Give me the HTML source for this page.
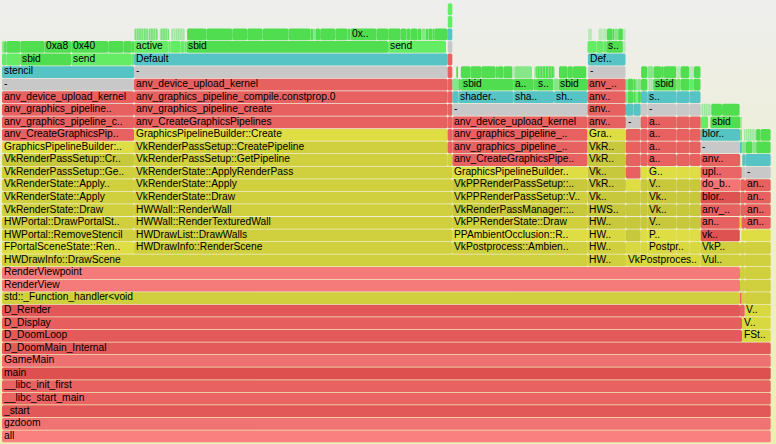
<!DOCTYPE html>
<html><head><meta charset="utf-8"><style>
html,body{margin:0;padding:0;}
body{width:776px;height:444px;overflow:hidden;position:relative;background:#eeeed0;}
.t{position:absolute;height:11px;}
.t span{position:absolute;left:1.7px;top:-0.5px;font-family:"Liberation Sans",sans-serif;font-size:10px;line-height:10px;color:#000;white-space:nowrap;transform:scaleX(1.025);transform-origin:0 0;}
</style></head><body>
<svg width="776" height="444" style="position:absolute;left:0;top:0"><defs><linearGradient id="bgg" x1="0" y1="0" x2="0" y2="1"><stop offset="0" stop-color="#eeeeee"/><stop offset="1" stop-color="#eeeeb0"/></linearGradient><pattern id="pGST" width="2.8" height="20" patternUnits="userSpaceOnUse"><rect width="2.8" height="20" fill="rgb(150,232,150)"/><rect width="2" height="20" fill="rgb(80,222,80)"/></pattern><pattern id="pGLS" width="2.2" height="20" patternUnits="userSpaceOnUse"><rect width="2.2" height="20" fill="rgb(195,236,195)"/><rect width="1.2" height="20" fill="rgb(150,230,150)"/></pattern><pattern id="pGMS" width="2.4" height="20" patternUnits="userSpaceOnUse"><rect width="2.4" height="20" fill="rgb(168,234,168)"/><rect width="1.5" height="20" fill="rgb(118,226,118)"/></pattern></defs><rect x="0" y="0" width="776" height="444" fill="url(#bgg)"/><rect x="2.00" y="430.40" width="768.70" height="11.80" rx="1.57" fill="rgb(250,128,128)"/><rect x="2.00" y="417.84" width="768.70" height="11.80" rx="1.57" fill="rgb(240,115,115)"/><rect x="2.00" y="405.28" width="768.70" height="11.80" rx="1.57" fill="rgb(226,88,88)"/><rect x="2.00" y="392.72" width="768.70" height="11.80" rx="1.57" fill="rgb(234,100,100)"/><rect x="2.00" y="380.16" width="768.70" height="11.80" rx="1.57" fill="rgb(232,98,98)"/><rect x="2.00" y="367.60" width="768.70" height="11.80" rx="1.57" fill="rgb(222,80,80)"/><rect x="2.00" y="355.04" width="768.70" height="11.80" rx="1.57" fill="rgb(238,112,112)"/><rect x="2.00" y="342.48" width="768.70" height="11.80" rx="1.57" fill="rgb(228,90,90)"/><rect x="2.00" y="329.92" width="740.00" height="11.80" rx="1.57" fill="rgb(228,90,90)"/><rect x="742.00" y="329.92" width="28.70" height="11.80" rx="1.57" fill="rgb(216,216,64)"/><rect x="2.00" y="317.36" width="740.00" height="11.80" rx="1.57" fill="rgb(230,94,94)"/><rect x="742.00" y="317.36" width="28.70" height="11.80" rx="1.57" fill="rgb(216,216,64)"/><rect x="2.00" y="304.80" width="738.00" height="11.80" rx="1.57" fill="rgb(226,88,88)"/><rect x="740.00" y="304.80" width="4.80" height="11.80" rx="1.57" fill="rgb(232,97,97)"/><rect x="744.80" y="304.80" width="25.90" height="11.80" rx="1.57" fill="rgb(216,216,64)"/><rect x="2.00" y="292.24" width="737.80" height="11.80" rx="1.57" fill="rgb(208,208,62)"/><rect x="739.80" y="292.24" width="1.95" height="11.80" rx="1.57" fill="rgb(234,102,102)"/><rect x="741.75" y="292.24" width="3.15" height="11.80" rx="1.57" fill="rgb(208,208,62)"/><rect x="744.90" y="292.24" width="25.80" height="11.80" rx="1.57" fill="rgb(208,208,62)"/><rect x="2.00" y="279.68" width="738.00" height="11.80" rx="1.57" fill="rgb(245,122,122)"/><rect x="740.00" y="279.68" width="4.90" height="11.80" rx="1.57" fill="rgb(208,208,62)"/><rect x="744.90" y="279.68" width="25.80" height="11.80" rx="1.57" fill="rgb(208,208,62)"/><rect x="2.00" y="267.12" width="738.00" height="11.80" rx="1.57" fill="rgb(245,122,122)"/><rect x="740.00" y="267.12" width="4.90" height="11.80" rx="1.57" fill="rgb(208,208,62)"/><rect x="744.90" y="267.12" width="25.80" height="11.80" rx="1.57" fill="rgb(208,208,62)"/><rect x="2.00" y="254.56" width="585.60" height="11.80" rx="1.57" fill="rgb(208,208,62)"/><rect x="587.60" y="254.56" width="38.30" height="11.80" rx="1.57" fill="rgb(208,208,62)"/><rect x="625.90" y="254.56" width="74.45" height="11.80" rx="1.57" fill="rgb(216,216,64)"/><rect x="700.35" y="254.56" width="39.65" height="11.80" rx="1.57" fill="rgb(208,208,62)"/><rect x="740.00" y="254.56" width="4.90" height="11.80" rx="1.57" fill="rgb(208,208,62)"/><rect x="744.90" y="254.56" width="25.80" height="11.80" rx="1.57" fill="rgb(208,208,62)"/><rect x="2.00" y="242.00" width="132.05" height="11.80" rx="1.57" fill="rgb(222,222,68)"/><rect x="2.00" y="229.44" width="132.05" height="11.80" rx="1.57" fill="rgb(208,208,62)"/><rect x="2.00" y="216.88" width="132.05" height="11.80" rx="1.57" fill="rgb(208,208,62)"/><rect x="2.00" y="204.32" width="132.05" height="11.80" rx="1.57" fill="rgb(208,208,62)"/><rect x="2.00" y="191.76" width="132.05" height="11.80" rx="1.57" fill="rgb(208,208,62)"/><rect x="2.00" y="179.20" width="132.05" height="11.80" rx="1.57" fill="rgb(208,208,62)"/><rect x="2.00" y="166.64" width="132.05" height="11.80" rx="1.57" fill="rgb(208,208,62)"/><rect x="2.00" y="154.08" width="132.05" height="11.80" rx="1.57" fill="rgb(200,200,60)"/><rect x="2.00" y="141.52" width="132.05" height="11.80" rx="1.57" fill="rgb(222,222,68)"/><rect x="2.00" y="128.96" width="132.05" height="11.80" rx="1.57" fill="rgb(232,97,97)"/><rect x="2.00" y="116.40" width="132.05" height="11.80" rx="1.57" fill="rgb(232,97,97)"/><rect x="2.00" y="103.84" width="132.05" height="11.80" rx="1.57" fill="rgb(232,97,97)"/><rect x="2.00" y="91.28" width="132.05" height="11.80" rx="1.57" fill="rgb(232,97,97)"/><rect x="2.00" y="78.72" width="132.05" height="11.80" rx="1.57" fill="rgb(200,200,200)"/><rect x="2.00" y="66.16" width="132.05" height="11.80" rx="1.57" fill="rgb(86,196,196)"/><rect x="2.00" y="53.60" width="4.25" height="11.80" rx="1.57" fill="rgb(100,236,100)"/><rect x="6.25" y="53.60" width="14.15" height="11.80" rx="1.57" fill="rgb(100,236,100)"/><rect x="20.40" y="53.60" width="50.85" height="11.80" rx="1.57" fill="rgb(80,222,80)"/><rect x="71.25" y="53.60" width="60.60" height="11.80" rx="1.57" fill="rgb(100,236,100)"/><rect x="131.85" y="53.60" width="2.20" height="11.80" rx="1.57" fill="rgb(100,236,100)"/><rect x="2.00" y="41.04" width="2.05" height="11.80" rx="1.57" fill="rgb(135,230,135)"/><rect x="4.05" y="41.04" width="2.35" height="11.80" rx="1.57" fill="rgb(80,222,80)"/><rect x="6.40" y="41.04" width="14.00" height="11.80" rx="1.57" fill="rgb(80,222,80)"/><rect x="20.40" y="41.04" width="24.05" height="11.80" rx="1.57" fill="rgb(80,222,80)"/><rect x="44.45" y="41.04" width="26.80" height="11.80" rx="1.57" fill="rgb(80,222,80)"/><rect x="71.25" y="41.04" width="37.00" height="11.80" rx="1.57" fill="rgb(80,222,80)"/><rect x="108.25" y="41.04" width="15.20" height="11.80" rx="1.57" fill="rgb(80,222,80)"/><rect x="123.45" y="41.04" width="8.40" height="11.80" rx="1.57" fill="rgb(80,222,80)"/><rect x="131.85" y="41.04" width="2.20" height="11.80" rx="1.57" fill="rgb(80,222,80)"/><rect x="134.05" y="242.00" width="318.15" height="11.80" rx="1.57" fill="rgb(208,208,62)"/><rect x="134.05" y="229.44" width="318.15" height="11.80" rx="1.57" fill="rgb(208,208,62)"/><rect x="134.05" y="216.88" width="318.15" height="11.80" rx="1.57" fill="rgb(208,208,62)"/><rect x="134.05" y="204.32" width="318.15" height="11.80" rx="1.57" fill="rgb(208,208,62)"/><rect x="134.05" y="191.76" width="318.15" height="11.80" rx="1.57" fill="rgb(208,208,62)"/><rect x="134.05" y="179.20" width="318.15" height="11.80" rx="1.57" fill="rgb(208,208,62)"/><rect x="134.05" y="166.64" width="318.15" height="11.80" rx="1.57" fill="rgb(208,208,62)"/><rect x="134.05" y="154.08" width="313.55" height="11.80" rx="1.57" fill="rgb(208,208,62)"/><rect x="134.05" y="141.52" width="313.55" height="11.80" rx="1.57" fill="rgb(208,208,62)"/><rect x="134.05" y="128.96" width="313.55" height="11.80" rx="1.57" fill="rgb(222,222,68)"/><rect x="134.05" y="116.40" width="313.55" height="11.80" rx="1.57" fill="rgb(232,97,97)"/><rect x="134.05" y="103.84" width="313.55" height="11.80" rx="1.57" fill="rgb(232,97,97)"/><rect x="134.05" y="91.28" width="313.55" height="11.80" rx="1.57" fill="rgb(232,97,97)"/><rect x="134.05" y="78.72" width="313.55" height="11.80" rx="1.57" fill="rgb(232,97,97)"/><rect x="134.05" y="66.16" width="313.55" height="11.80" rx="1.57" fill="rgb(200,200,200)"/><rect x="134.05" y="53.60" width="313.55" height="11.80" rx="1.57" fill="rgb(86,196,196)"/><rect x="134.05" y="41.04" width="34.30" height="11.80" rx="1.57" fill="rgb(100,236,100)"/><rect x="168.35" y="41.04" width="1.95" height="11.80" rx="1.57" fill="rgb(100,236,100)"/><rect x="170.30" y="41.04" width="10.30" height="11.80" rx="1.57" fill="rgb(100,236,100)"/><rect x="180.60" y="41.04" width="3.85" height="11.80" rx="1.57" fill="rgb(100,236,100)"/><rect x="184.45" y="41.04" width="2.30" height="11.80" rx="1.57" fill="rgb(100,236,100)"/><rect x="186.75" y="41.04" width="201.30" height="11.80" rx="1.57" fill="rgb(80,222,80)"/><rect x="388.05" y="41.04" width="57.95" height="11.80" rx="1.57" fill="rgb(100,236,100)"/><rect x="134.30" y="28.48" width="14.15" height="11.80" rx="1.57" fill="url(#pGMS)"/><rect x="148.45" y="28.48" width="9.45" height="11.80" rx="1.57" fill="url(#pGMS)"/><rect x="159.80" y="28.48" width="9.30" height="11.80" rx="1.57" fill="url(#pGMS)"/><rect x="171.00" y="28.48" width="14.00" height="11.80" rx="1.57" fill="url(#pGLS)"/><rect x="187.10" y="28.48" width="19.25" height="11.80" rx="1.57" fill="rgb(80,222,80)"/><rect x="206.35" y="28.48" width="25.90" height="11.80" rx="1.57" fill="rgb(80,222,80)"/><rect x="232.25" y="28.48" width="15.05" height="11.80" rx="1.57" fill="rgb(80,222,80)"/><rect x="247.30" y="28.48" width="15.10" height="11.80" rx="1.57" fill="rgb(80,222,80)"/><rect x="262.40" y="28.48" width="26.00" height="11.80" rx="1.57" fill="rgb(80,222,80)"/><rect x="288.40" y="28.48" width="22.10" height="11.80" rx="1.57" fill="rgb(80,222,80)"/><rect x="310.50" y="28.48" width="2.60" height="11.80" rx="1.57" fill="rgb(80,222,80)"/><rect x="315.35" y="28.48" width="4.80" height="11.80" rx="1.57" fill="rgb(80,222,80)"/><rect x="320.15" y="28.48" width="15.25" height="11.80" rx="1.57" fill="rgb(80,222,80)"/><rect x="335.40" y="28.48" width="12.20" height="11.80" rx="1.57" fill="rgb(80,222,80)"/><rect x="347.60" y="28.48" width="2.90" height="11.80" rx="1.57" fill="rgb(80,222,80)"/><rect x="376.45" y="28.48" width="11.80" height="11.80" rx="1.57" fill="rgb(80,222,80)"/><rect x="388.25" y="28.48" width="12.40" height="11.80" rx="1.57" fill="rgb(80,222,80)"/><rect x="400.65" y="28.48" width="5.80" height="11.80" rx="1.57" fill="rgb(80,222,80)"/><rect x="406.45" y="28.48" width="4.00" height="11.80" rx="1.57" fill="rgb(80,222,80)"/><rect x="410.45" y="28.48" width="7.10" height="11.80" rx="1.57" fill="rgb(80,222,80)"/><rect x="417.55" y="28.48" width="3.90" height="11.80" rx="1.57" fill="rgb(80,222,80)"/><rect x="425.95" y="28.48" width="2.55" height="11.80" rx="1.57" fill="rgb(80,222,80)"/><rect x="428.50" y="28.48" width="3.90" height="11.80" rx="1.57" fill="rgb(80,222,80)"/><rect x="432.40" y="28.48" width="1.80" height="11.80" rx="1.57" fill="rgb(80,222,80)"/><rect x="434.20" y="28.48" width="13.00" height="11.80" rx="1.57" fill="rgb(80,222,80)"/><rect x="313.10" y="28.48" width="2.25" height="11.80" rx="1.57" fill="rgb(135,230,135)"/><rect x="421.45" y="28.48" width="4.50" height="11.80" rx="1.57" fill="rgb(135,230,135)"/><rect x="350.50" y="28.48" width="25.95" height="11.80" rx="1.57" fill="rgb(80,222,80)"/><rect x="447.60" y="154.08" width="4.85" height="11.80" rx="1.57" fill="rgb(208,208,62)"/><rect x="447.60" y="141.52" width="4.85" height="11.80" rx="1.57" fill="rgb(232,97,97)"/><rect x="447.60" y="128.96" width="4.85" height="11.80" rx="1.57" fill="rgb(232,97,97)"/><rect x="447.60" y="116.40" width="4.85" height="11.80" rx="1.57" fill="rgb(232,97,97)"/><rect x="447.60" y="103.84" width="4.85" height="11.80" rx="1.57" fill="rgb(232,97,97)"/><rect x="447.60" y="91.28" width="4.90" height="11.80" rx="1.57" fill="rgb(232,97,97)"/><rect x="447.60" y="78.72" width="4.90" height="11.80" rx="1.57" fill="rgb(232,97,97)"/><rect x="447.60" y="66.16" width="4.70" height="11.80" rx="1.57" fill="rgb(232,97,97)"/><rect x="447.60" y="53.60" width="4.70" height="11.80" rx="1.57" fill="rgb(232,97,97)"/><rect x="447.80" y="41.04" width="4.50" height="11.80" rx="1.57" fill="rgb(200,200,200)"/><rect x="447.20" y="28.48" width="5.10" height="11.80" rx="1.57" fill="rgb(86,196,196)"/><rect x="447.80" y="15.92" width="4.50" height="11.80" rx="1.57" fill="rgb(100,236,100)"/><rect x="447.80" y="3.36" width="4.50" height="11.80" rx="1.57" fill="rgb(100,236,100)"/><rect x="452.20" y="242.00" width="135.35" height="11.80" rx="1.57" fill="rgb(208,208,62)"/><rect x="452.20" y="229.44" width="135.35" height="11.80" rx="1.57" fill="rgb(222,222,68)"/><rect x="452.20" y="216.88" width="135.35" height="11.80" rx="1.57" fill="rgb(208,208,62)"/><rect x="452.20" y="204.32" width="135.35" height="11.80" rx="1.57" fill="rgb(200,200,60)"/><rect x="452.20" y="191.76" width="135.35" height="11.80" rx="1.57" fill="rgb(208,208,62)"/><rect x="452.20" y="179.20" width="135.35" height="11.80" rx="1.57" fill="rgb(200,200,60)"/><rect x="452.20" y="166.64" width="135.35" height="11.80" rx="1.57" fill="rgb(222,222,68)"/><rect x="452.45" y="154.08" width="135.10" height="11.80" rx="1.57" fill="rgb(232,97,97)"/><rect x="452.45" y="141.52" width="135.10" height="11.80" rx="1.57" fill="rgb(232,97,97)"/><rect x="452.45" y="128.96" width="135.10" height="11.80" rx="1.57" fill="rgb(232,97,97)"/><rect x="452.45" y="116.40" width="135.10" height="11.80" rx="1.57" fill="rgb(232,97,97)"/><rect x="452.45" y="103.84" width="135.10" height="11.80" rx="1.57" fill="rgb(200,200,200)"/><rect x="452.50" y="91.28" width="6.00" height="11.80" rx="1.57" fill="rgb(86,196,196)"/><rect x="458.50" y="91.28" width="55.10" height="11.80" rx="1.57" fill="rgb(86,196,196)"/><rect x="513.60" y="91.28" width="40.45" height="11.80" rx="1.57" fill="rgb(86,196,196)"/><rect x="554.05" y="91.28" width="33.50" height="11.80" rx="1.57" fill="rgb(86,196,196)"/><rect x="452.50" y="78.72" width="6.00" height="11.80" rx="1.57" fill="rgb(135,230,135)"/><rect x="458.50" y="78.72" width="2.35" height="11.80" rx="1.57" fill="rgb(80,222,80)"/><rect x="460.85" y="78.72" width="52.75" height="11.80" rx="1.57" fill="rgb(80,222,80)"/><rect x="513.60" y="78.72" width="19.90" height="11.80" rx="1.57" fill="rgb(80,222,80)"/><rect x="533.50" y="78.72" width="2.45" height="11.80" rx="1.57" fill="rgb(80,222,80)"/><rect x="535.95" y="78.72" width="17.30" height="11.80" rx="1.57" fill="rgb(80,222,80)"/><rect x="553.25" y="78.72" width="5.55" height="11.80" rx="1.57" fill="rgb(135,230,135)"/><rect x="558.80" y="78.72" width="28.75" height="11.80" rx="1.57" fill="rgb(80,222,80)"/><rect x="456.30" y="66.16" width="1.70" height="11.80" rx="1.57" fill="rgb(80,222,80)"/><rect x="460.80" y="66.16" width="9.55" height="11.80" rx="1.57" fill="rgb(80,222,80)"/><rect x="470.35" y="66.16" width="10.80" height="11.80" rx="1.57" fill="rgb(80,222,80)"/><rect x="481.15" y="66.16" width="14.35" height="11.80" rx="1.57" fill="rgb(80,222,80)"/><rect x="495.50" y="66.16" width="2.45" height="11.80" rx="1.57" fill="rgb(80,222,80)"/><rect x="497.95" y="66.16" width="5.65" height="11.80" rx="1.57" fill="rgb(80,222,80)"/><rect x="503.60" y="66.16" width="8.90" height="11.80" rx="1.57" fill="rgb(80,222,80)"/><rect x="559.00" y="66.16" width="8.65" height="11.80" rx="1.57" fill="rgb(80,222,80)"/><rect x="567.65" y="66.16" width="5.25" height="11.80" rx="1.57" fill="rgb(80,222,80)"/><rect x="572.90" y="66.16" width="13.40" height="11.80" rx="1.57" fill="rgb(80,222,80)"/><rect x="512.50" y="66.16" width="2.00" height="11.80" rx="1.57" fill="rgb(185,232,185)"/><rect x="514.50" y="66.16" width="17.50" height="11.80" rx="1.57" fill="rgb(135,230,135)"/><rect x="534.00" y="66.16" width="1.50" height="11.80" rx="1.57" fill="rgb(185,232,185)"/><rect x="535.50" y="66.16" width="19.00" height="11.80" rx="1.57" fill="url(#pGST)"/><rect x="587.55" y="242.00" width="38.35" height="11.80" rx="1.57" fill="rgb(208,208,62)"/><rect x="587.55" y="229.44" width="38.35" height="11.80" rx="1.57" fill="rgb(216,216,64)"/><rect x="587.55" y="216.88" width="38.35" height="11.80" rx="1.57" fill="rgb(200,200,60)"/><rect x="587.55" y="204.32" width="38.35" height="11.80" rx="1.57" fill="rgb(200,200,60)"/><rect x="587.55" y="191.76" width="38.35" height="11.80" rx="1.57" fill="rgb(200,200,60)"/><rect x="587.55" y="179.20" width="38.35" height="11.80" rx="1.57" fill="rgb(200,200,60)"/><rect x="587.55" y="166.64" width="38.35" height="11.80" rx="1.57" fill="rgb(200,200,60)"/><rect x="587.55" y="154.08" width="38.35" height="11.80" rx="1.57" fill="rgb(200,200,60)"/><rect x="587.55" y="141.52" width="38.35" height="11.80" rx="1.57" fill="rgb(200,200,60)"/><rect x="587.55" y="128.96" width="38.35" height="11.80" rx="1.57" fill="rgb(222,222,68)"/><rect x="587.55" y="116.40" width="38.35" height="11.80" rx="1.57" fill="rgb(232,97,97)"/><rect x="587.55" y="103.84" width="38.35" height="11.80" rx="1.57" fill="rgb(232,97,97)"/><rect x="587.55" y="91.28" width="38.25" height="11.80" rx="1.57" fill="rgb(232,97,97)"/><rect x="587.55" y="78.72" width="38.25" height="11.80" rx="1.57" fill="rgb(232,97,97)"/><rect x="587.90" y="66.16" width="37.60" height="11.80" rx="1.57" fill="rgb(200,200,200)"/><rect x="587.90" y="53.60" width="37.60" height="11.80" rx="1.57" fill="rgb(86,196,196)"/><rect x="587.50" y="41.04" width="8.80" height="11.80" rx="1.57" fill="rgb(100,236,100)"/><rect x="596.30" y="41.04" width="6.95" height="11.80" rx="1.57" fill="rgb(100,236,100)"/><rect x="603.25" y="41.04" width="3.00" height="11.80" rx="1.57" fill="rgb(100,236,100)"/><rect x="606.25" y="41.04" width="16.65" height="11.80" rx="1.57" fill="rgb(80,222,80)"/><rect x="622.90" y="41.04" width="2.70" height="11.80" rx="1.57" fill="rgb(185,232,185)"/><rect x="588.10" y="28.48" width="3.80" height="11.80" rx="1.57" fill="rgb(185,232,185)"/><rect x="598.50" y="28.48" width="4.15" height="11.80" rx="1.57" fill="rgb(185,232,185)"/><rect x="602.65" y="28.48" width="4.20" height="11.80" rx="1.57" fill="rgb(185,232,185)"/><rect x="606.85" y="28.48" width="5.50" height="11.80" rx="1.57" fill="rgb(80,222,80)"/><rect x="612.35" y="28.48" width="1.75" height="11.80" rx="1.57" fill="rgb(80,222,80)"/><rect x="614.10" y="28.48" width="4.10" height="11.80" rx="1.57" fill="rgb(135,230,135)"/><rect x="618.20" y="28.48" width="4.70" height="11.80" rx="1.57" fill="rgb(80,222,80)"/><rect x="622.90" y="28.48" width="2.70" height="11.80" rx="1.57" fill="rgb(185,232,185)"/><rect x="625.90" y="242.00" width="14.75" height="11.80" rx="1.57" fill="rgb(216,216,64)"/><rect x="625.90" y="229.44" width="14.75" height="11.80" rx="1.57" fill="rgb(200,200,60)"/><rect x="625.90" y="216.88" width="14.75" height="11.80" rx="1.57" fill="rgb(200,200,60)"/><rect x="625.90" y="204.32" width="14.75" height="11.80" rx="1.57" fill="rgb(200,200,60)"/><rect x="625.90" y="191.76" width="14.75" height="11.80" rx="1.57" fill="rgb(200,200,60)"/><rect x="625.90" y="179.20" width="14.75" height="11.80" rx="1.57" fill="rgb(222,222,68)"/><rect x="625.90" y="166.64" width="14.75" height="11.80" rx="1.57" fill="rgb(232,97,97)"/><rect x="625.90" y="154.08" width="14.75" height="11.80" rx="1.57" fill="rgb(232,97,97)"/><rect x="625.90" y="141.52" width="14.75" height="11.80" rx="1.57" fill="rgb(232,97,97)"/><rect x="625.90" y="128.96" width="14.75" height="11.80" rx="1.57" fill="rgb(232,97,97)"/><rect x="625.90" y="116.40" width="14.75" height="11.80" rx="1.57" fill="rgb(200,200,200)"/><rect x="625.90" y="103.84" width="7.75" height="11.80" rx="1.57" fill="rgb(86,196,196)"/><rect x="633.65" y="103.84" width="7.10" height="11.80" rx="1.57" fill="rgb(86,196,196)"/><rect x="625.80" y="91.28" width="1.85" height="11.80" rx="1.57" fill="rgb(135,230,135)"/><rect x="627.65" y="91.28" width="5.75" height="11.80" rx="1.57" fill="rgb(80,222,80)"/><rect x="633.40" y="91.28" width="2.40" height="11.80" rx="1.57" fill="rgb(80,222,80)"/><rect x="635.80" y="91.28" width="2.00" height="11.80" rx="1.57" fill="rgb(135,230,135)"/><rect x="637.80" y="91.28" width="3.10" height="11.80" rx="1.57" fill="rgb(80,222,80)"/><rect x="625.80" y="78.72" width="1.85" height="11.80" rx="1.57" fill="rgb(135,230,135)"/><rect x="627.65" y="78.72" width="5.75" height="11.80" rx="1.57" fill="rgb(80,222,80)"/><rect x="633.40" y="78.72" width="2.40" height="11.80" rx="1.57" fill="rgb(80,222,80)"/><rect x="635.80" y="78.72" width="2.00" height="11.80" rx="1.57" fill="rgb(135,230,135)"/><rect x="637.80" y="78.72" width="3.10" height="11.80" rx="1.57" fill="rgb(135,230,135)"/><rect x="640.65" y="242.00" width="7.10" height="11.80" rx="1.57" fill="rgb(216,216,64)"/><rect x="647.75" y="242.00" width="28.90" height="11.80" rx="1.57" fill="rgb(216,216,64)"/><rect x="676.65" y="242.00" width="13.10" height="11.80" rx="1.57" fill="rgb(216,216,64)"/><rect x="689.75" y="242.00" width="11.00" height="11.80" rx="1.57" fill="rgb(216,216,64)"/><rect x="640.65" y="229.44" width="7.10" height="11.80" rx="1.57" fill="rgb(222,222,68)"/><rect x="647.75" y="229.44" width="28.90" height="11.80" rx="1.57" fill="rgb(222,222,68)"/><rect x="676.65" y="229.44" width="13.10" height="11.80" rx="1.57" fill="rgb(222,222,68)"/><rect x="689.75" y="229.44" width="11.00" height="11.80" rx="1.57" fill="rgb(222,222,68)"/><rect x="640.65" y="216.88" width="7.10" height="11.80" rx="1.57" fill="rgb(200,200,60)"/><rect x="647.75" y="216.88" width="28.90" height="11.80" rx="1.57" fill="rgb(200,200,60)"/><rect x="676.65" y="216.88" width="13.10" height="11.80" rx="1.57" fill="rgb(200,200,60)"/><rect x="689.75" y="216.88" width="11.00" height="11.80" rx="1.57" fill="rgb(200,200,60)"/><rect x="640.65" y="204.32" width="7.10" height="11.80" rx="1.57" fill="rgb(200,200,60)"/><rect x="647.75" y="204.32" width="28.90" height="11.80" rx="1.57" fill="rgb(200,200,60)"/><rect x="676.65" y="204.32" width="13.10" height="11.80" rx="1.57" fill="rgb(200,200,60)"/><rect x="689.75" y="204.32" width="11.00" height="11.80" rx="1.57" fill="rgb(200,200,60)"/><rect x="640.65" y="191.76" width="7.10" height="11.80" rx="1.57" fill="rgb(200,200,60)"/><rect x="647.75" y="191.76" width="28.90" height="11.80" rx="1.57" fill="rgb(200,200,60)"/><rect x="676.65" y="191.76" width="13.10" height="11.80" rx="1.57" fill="rgb(200,200,60)"/><rect x="689.75" y="191.76" width="11.00" height="11.80" rx="1.57" fill="rgb(200,200,60)"/><rect x="640.65" y="179.20" width="7.10" height="11.80" rx="1.57" fill="rgb(200,200,60)"/><rect x="647.75" y="179.20" width="28.90" height="11.80" rx="1.57" fill="rgb(200,200,60)"/><rect x="676.65" y="179.20" width="13.10" height="11.80" rx="1.57" fill="rgb(200,200,60)"/><rect x="689.75" y="179.20" width="11.00" height="11.80" rx="1.57" fill="rgb(200,200,60)"/><rect x="640.65" y="166.64" width="7.10" height="11.80" rx="1.57" fill="rgb(222,222,68)"/><rect x="647.75" y="166.64" width="28.90" height="11.80" rx="1.57" fill="rgb(222,222,68)"/><rect x="676.65" y="166.64" width="13.10" height="11.80" rx="1.57" fill="rgb(222,222,68)"/><rect x="689.75" y="166.64" width="11.00" height="11.80" rx="1.57" fill="rgb(222,222,68)"/><rect x="640.65" y="154.08" width="7.10" height="11.80" rx="1.57" fill="rgb(232,97,97)"/><rect x="647.75" y="154.08" width="28.90" height="11.80" rx="1.57" fill="rgb(232,97,97)"/><rect x="676.65" y="154.08" width="13.10" height="11.80" rx="1.57" fill="rgb(232,97,97)"/><rect x="689.75" y="154.08" width="11.00" height="11.80" rx="1.57" fill="rgb(232,97,97)"/><rect x="640.65" y="141.52" width="7.10" height="11.80" rx="1.57" fill="rgb(232,97,97)"/><rect x="647.75" y="141.52" width="28.90" height="11.80" rx="1.57" fill="rgb(232,97,97)"/><rect x="676.65" y="141.52" width="13.10" height="11.80" rx="1.57" fill="rgb(232,97,97)"/><rect x="689.75" y="141.52" width="11.00" height="11.80" rx="1.57" fill="rgb(232,97,97)"/><rect x="640.65" y="128.96" width="7.10" height="11.80" rx="1.57" fill="rgb(232,97,97)"/><rect x="647.75" y="128.96" width="28.90" height="11.80" rx="1.57" fill="rgb(232,97,97)"/><rect x="676.65" y="128.96" width="13.10" height="11.80" rx="1.57" fill="rgb(232,97,97)"/><rect x="689.75" y="128.96" width="11.00" height="11.80" rx="1.57" fill="rgb(232,97,97)"/><rect x="640.65" y="116.40" width="7.10" height="11.80" rx="1.57" fill="rgb(232,97,97)"/><rect x="647.75" y="116.40" width="28.90" height="11.80" rx="1.57" fill="rgb(232,97,97)"/><rect x="676.65" y="116.40" width="13.10" height="11.80" rx="1.57" fill="rgb(232,97,97)"/><rect x="689.75" y="116.40" width="11.00" height="11.80" rx="1.57" fill="rgb(232,97,97)"/><rect x="640.75" y="103.84" width="6.55" height="11.80" rx="1.57" fill="rgb(200,200,200)"/><rect x="647.30" y="103.84" width="28.95" height="11.80" rx="1.57" fill="rgb(200,200,200)"/><rect x="676.25" y="103.84" width="13.00" height="11.80" rx="1.57" fill="rgb(200,200,200)"/><rect x="689.25" y="103.84" width="11.55" height="11.80" rx="1.57" fill="rgb(200,200,200)"/><rect x="640.90" y="91.28" width="6.40" height="11.80" rx="1.57" fill="rgb(86,196,196)"/><rect x="647.30" y="91.28" width="29.25" height="11.80" rx="1.57" fill="rgb(86,196,196)"/><rect x="676.55" y="91.28" width="13.05" height="11.80" rx="1.57" fill="rgb(86,196,196)"/><rect x="689.60" y="91.28" width="10.90" height="11.80" rx="1.57" fill="rgb(86,196,196)"/><rect x="640.90" y="78.72" width="6.40" height="11.80" rx="1.57" fill="rgb(80,222,80)"/><rect x="647.30" y="78.72" width="5.90" height="11.80" rx="1.57" fill="url(#pGLS)"/><rect x="653.20" y="78.72" width="23.35" height="11.80" rx="1.57" fill="rgb(80,222,80)"/><rect x="676.55" y="78.72" width="4.05" height="11.80" rx="1.57" fill="rgb(100,236,100)"/><rect x="680.60" y="78.72" width="9.00" height="11.80" rx="1.57" fill="rgb(80,222,80)"/><rect x="689.60" y="78.72" width="3.85" height="11.80" rx="1.57" fill="rgb(100,236,100)"/><rect x="693.45" y="78.72" width="7.05" height="11.80" rx="1.57" fill="rgb(80,222,80)"/><rect x="641.10" y="66.16" width="6.20" height="11.80" rx="1.57" fill="rgb(80,222,80)"/><rect x="647.30" y="66.16" width="6.45" height="11.80" rx="1.57" fill="rgb(135,230,135)"/><rect x="653.75" y="66.16" width="7.30" height="11.80" rx="1.57" fill="rgb(80,222,80)"/><rect x="661.05" y="66.16" width="2.80" height="11.80" rx="1.57" fill="rgb(80,222,80)"/><rect x="663.85" y="66.16" width="12.50" height="11.80" rx="1.57" fill="rgb(80,222,80)"/><rect x="676.35" y="66.16" width="4.25" height="11.80" rx="1.57" fill="rgb(185,232,185)"/><rect x="680.60" y="66.16" width="8.55" height="11.80" rx="1.57" fill="rgb(80,222,80)"/><rect x="689.15" y="66.16" width="4.75" height="11.80" rx="1.57" fill="rgb(185,232,185)"/><rect x="693.90" y="66.16" width="6.60" height="11.80" rx="1.57" fill="rgb(80,222,80)"/><rect x="700.75" y="242.00" width="39.25" height="11.80" rx="1.57" fill="rgb(208,208,62)"/><rect x="700.75" y="229.44" width="39.05" height="11.80" rx="1.57" fill="rgb(222,82,82)"/><rect x="700.75" y="216.88" width="39.05" height="11.80" rx="1.57" fill="rgb(232,97,97)"/><rect x="700.75" y="204.32" width="39.75" height="11.80" rx="1.57" fill="rgb(232,97,97)"/><rect x="700.75" y="191.76" width="39.75" height="11.80" rx="1.57" fill="rgb(222,82,82)"/><rect x="700.75" y="179.20" width="39.75" height="11.80" rx="1.57" fill="rgb(242,116,116)"/><rect x="700.75" y="166.64" width="41.10" height="11.80" rx="1.57" fill="rgb(234,102,102)"/><rect x="700.75" y="154.08" width="39.45" height="11.80" rx="1.57" fill="rgb(232,97,97)"/><rect x="700.75" y="141.52" width="39.15" height="11.80" rx="1.57" fill="rgb(200,200,200)"/><rect x="700.75" y="128.96" width="39.40" height="11.80" rx="1.57" fill="rgb(86,196,196)"/><rect x="700.75" y="116.40" width="7.35" height="11.80" rx="1.57" fill="rgb(100,236,100)"/><rect x="710.40" y="116.40" width="29.95" height="11.80" rx="1.57" fill="rgb(80,222,80)"/><rect x="740.35" y="116.40" width="1.35" height="11.80" rx="1.57" fill="rgb(135,230,135)"/><rect x="700.80" y="103.84" width="10.45" height="11.80" rx="1.57" fill="url(#pGLS)"/><rect x="711.25" y="103.84" width="10.80" height="11.80" rx="1.57" fill="rgb(80,222,80)"/><rect x="722.05" y="103.84" width="17.55" height="11.80" rx="1.57" fill="rgb(80,222,80)"/><rect x="740.00" y="242.00" width="4.90" height="11.80" rx="1.57" fill="rgb(208,208,62)"/><rect x="744.90" y="242.00" width="25.80" height="11.80" rx="1.57" fill="rgb(208,208,62)"/><rect x="741.40" y="229.44" width="3.60" height="11.80" rx="1.57" fill="rgb(222,222,68)"/><rect x="745.00" y="229.44" width="25.70" height="11.80" rx="1.57" fill="rgb(222,222,68)"/><rect x="739.80" y="216.88" width="1.65" height="11.80" rx="1.57" fill="rgb(222,222,68)"/><rect x="741.45" y="216.88" width="3.55" height="11.80" rx="1.57" fill="rgb(232,97,97)"/><rect x="745.00" y="216.88" width="25.70" height="11.80" rx="1.57" fill="rgb(232,97,97)"/><rect x="740.50" y="204.32" width="4.50" height="11.80" rx="1.57" fill="rgb(232,97,97)"/><rect x="745.00" y="204.32" width="25.70" height="11.80" rx="1.57" fill="rgb(232,97,97)"/><rect x="740.50" y="191.76" width="4.50" height="11.80" rx="1.57" fill="rgb(232,97,97)"/><rect x="745.00" y="191.76" width="25.70" height="11.80" rx="1.57" fill="rgb(232,97,97)"/><rect x="740.50" y="179.20" width="4.50" height="11.80" rx="1.57" fill="rgb(232,97,97)"/><rect x="745.00" y="179.20" width="25.70" height="11.80" rx="1.57" fill="rgb(232,97,97)"/><rect x="741.85" y="166.64" width="3.40" height="11.80" rx="1.57" fill="rgb(200,200,200)"/><rect x="745.25" y="166.64" width="25.45" height="11.80" rx="1.57" fill="rgb(200,200,200)"/><rect x="742.20" y="154.08" width="3.05" height="11.80" rx="1.57" fill="rgb(86,196,196)"/><rect x="745.25" y="154.08" width="25.45" height="11.80" rx="1.57" fill="rgb(86,196,196)"/><rect x="739.90" y="141.52" width="2.05" height="11.80" rx="1.57" fill="rgb(86,196,196)"/><rect x="741.95" y="141.52" width="3.90" height="11.80" rx="1.57" fill="rgb(135,230,135)"/><rect x="745.85" y="141.52" width="6.70" height="11.80" rx="1.57" fill="rgb(80,222,80)"/><rect x="752.55" y="141.52" width="3.65" height="11.80" rx="1.57" fill="rgb(135,230,135)"/><rect x="756.20" y="141.52" width="14.40" height="11.80" rx="1.57" fill="rgb(80,222,80)"/><rect x="740.15" y="128.96" width="1.75" height="11.80" rx="1.57" fill="rgb(100,236,100)"/><rect x="743.90" y="128.96" width="12.15" height="11.80" rx="1.57" fill="url(#pGLS)"/><rect x="756.05" y="128.96" width="4.55" height="11.80" rx="1.57" fill="rgb(80,222,80)"/><rect x="760.60" y="128.96" width="10.00" height="11.80" rx="1.57" fill="rgb(80,222,80)"/></svg>
<div class="t" style="left:2.00px;top:431.5px;width:768.20px"><span>all</span></div>
<div class="t" style="left:2.00px;top:418.5px;width:768.20px"><span>gzdoom</span></div>
<div class="t" style="left:2.00px;top:406.5px;width:768.20px"><span>_start</span></div>
<div class="t" style="left:2.00px;top:393.5px;width:768.20px"><span>__libc_start_main</span></div>
<div class="t" style="left:2.00px;top:380.5px;width:768.20px"><span>__libc_init_first</span></div>
<div class="t" style="left:2.00px;top:368.5px;width:768.20px"><span>main</span></div>
<div class="t" style="left:2.00px;top:355.5px;width:768.20px"><span>GameMain</span></div>
<div class="t" style="left:2.00px;top:343.5px;width:768.20px"><span>D_DoomMain_Internal</span></div>
<div class="t" style="left:2.00px;top:330.5px;width:739.50px"><span>D_DoomLoop</span></div>
<div class="t" style="left:742.00px;top:330.5px;width:28.20px"><span>FSt..</span></div>
<div class="t" style="left:2.00px;top:318.5px;width:739.50px"><span>D_Display</span></div>
<div class="t" style="left:742.00px;top:318.5px;width:28.20px"><span>V..</span></div>
<div class="t" style="left:2.00px;top:305.5px;width:737.50px"><span>D_Render</span></div>
<div class="t" style="left:744.80px;top:305.5px;width:25.40px"><span>V..</span></div>
<div class="t" style="left:2.00px;top:292.5px;width:737.30px"><span>std::_Function_handler&lt;void</span></div>
<div class="t" style="left:2.00px;top:280.5px;width:737.50px"><span>RenderView</span></div>
<div class="t" style="left:2.00px;top:267.5px;width:737.50px"><span>RenderViewpoint</span></div>
<div class="t" style="left:2.00px;top:255.5px;width:585.10px"><span>HWDrawInfo::DrawScene</span></div>
<div class="t" style="left:587.60px;top:255.5px;width:37.80px"><span>HW..</span></div>
<div class="t" style="left:625.90px;top:255.5px;width:73.95px"><span>VkPostproces..</span></div>
<div class="t" style="left:700.35px;top:255.5px;width:39.15px"><span>Vul..</span></div>
<div class="t" style="left:2.00px;top:242.5px;width:131.55px"><span>FPortalSceneState::Ren..</span></div>
<div class="t" style="left:2.00px;top:230.5px;width:131.55px"><span>HWPortal::RemoveStencil</span></div>
<div class="t" style="left:2.00px;top:217.5px;width:131.55px"><span>HWPortal::DrawPortalSt..</span></div>
<div class="t" style="left:2.00px;top:205.5px;width:131.55px"><span>VkRenderState::Draw</span></div>
<div class="t" style="left:2.00px;top:192.5px;width:131.55px"><span>VkRenderState::Apply</span></div>
<div class="t" style="left:2.00px;top:179.5px;width:131.55px"><span>VkRenderState::Apply..</span></div>
<div class="t" style="left:2.00px;top:167.5px;width:131.55px"><span>VkRenderPassSetup::Ge..</span></div>
<div class="t" style="left:2.00px;top:154.5px;width:131.55px"><span>VkRenderPassSetup::Cr..</span></div>
<div class="t" style="left:2.00px;top:142.5px;width:131.55px"><span>GraphicsPipelineBuilder:..</span></div>
<div class="t" style="left:2.00px;top:129.5px;width:131.55px"><span>anv_CreateGraphicsPip..</span></div>
<div class="t" style="left:2.00px;top:117.5px;width:131.55px"><span>anv_graphics_pipeline_c..</span></div>
<div class="t" style="left:2.00px;top:104.5px;width:131.55px"><span>anv_graphics_pipeline..</span></div>
<div class="t" style="left:2.00px;top:92.5px;width:131.55px"><span>anv_device_upload_kernel</span></div>
<div class="t" style="left:2.00px;top:79.5px;width:131.55px"><span>-</span></div>
<div class="t" style="left:2.00px;top:66.5px;width:131.55px"><span>stencil</span></div>
<div class="t" style="left:20.40px;top:54.5px;width:50.35px"><span>sbid</span></div>
<div class="t" style="left:71.25px;top:54.5px;width:60.10px"><span>send</span></div>
<div class="t" style="left:44.45px;top:41.5px;width:26.30px"><span>0xa8</span></div>
<div class="t" style="left:71.25px;top:41.5px;width:36.50px"><span>0x40</span></div>
<div class="t" style="left:134.05px;top:242.5px;width:317.65px"><span>HWDrawInfo::RenderScene</span></div>
<div class="t" style="left:134.05px;top:230.5px;width:317.65px"><span>HWDrawList::DrawWalls</span></div>
<div class="t" style="left:134.05px;top:217.5px;width:317.65px"><span>HWWall::RenderTexturedWall</span></div>
<div class="t" style="left:134.05px;top:205.5px;width:317.65px"><span>HWWall::RenderWall</span></div>
<div class="t" style="left:134.05px;top:192.5px;width:317.65px"><span>VkRenderState::Draw</span></div>
<div class="t" style="left:134.05px;top:179.5px;width:317.65px"><span>VkRenderState::Apply</span></div>
<div class="t" style="left:134.05px;top:167.5px;width:317.65px"><span>VkRenderState::ApplyRenderPass</span></div>
<div class="t" style="left:134.05px;top:154.5px;width:313.05px"><span>VkRenderPassSetup::GetPipeline</span></div>
<div class="t" style="left:134.05px;top:142.5px;width:313.05px"><span>VkRenderPassSetup::CreatePipeline</span></div>
<div class="t" style="left:134.05px;top:129.5px;width:313.05px"><span>GraphicsPipelineBuilder::Create</span></div>
<div class="t" style="left:134.05px;top:117.5px;width:313.05px"><span>anv_CreateGraphicsPipelines</span></div>
<div class="t" style="left:134.05px;top:104.5px;width:313.05px"><span>anv_graphics_pipeline_create</span></div>
<div class="t" style="left:134.05px;top:92.5px;width:313.05px"><span>anv_graphics_pipeline_compile.constprop.0</span></div>
<div class="t" style="left:134.05px;top:79.5px;width:313.05px"><span>anv_device_upload_kernel</span></div>
<div class="t" style="left:134.05px;top:66.5px;width:313.05px"><span>-</span></div>
<div class="t" style="left:134.05px;top:54.5px;width:313.05px"><span>Default</span></div>
<div class="t" style="left:134.05px;top:41.5px;width:33.80px"><span>active</span></div>
<div class="t" style="left:186.75px;top:41.5px;width:200.80px"><span>sbid</span></div>
<div class="t" style="left:388.05px;top:41.5px;width:57.45px"><span>send</span></div>
<div class="t" style="left:350.50px;top:29.5px;width:25.45px"><span>0x..</span></div>
<div class="t" style="left:452.20px;top:242.5px;width:134.85px"><span>VkPostprocess::Ambien..</span></div>
<div class="t" style="left:452.20px;top:230.5px;width:134.85px"><span>PPAmbientOcclusion::R..</span></div>
<div class="t" style="left:452.20px;top:217.5px;width:134.85px"><span>VkPPRenderState::Draw</span></div>
<div class="t" style="left:452.20px;top:205.5px;width:134.85px"><span>VkRenderPassManager::..</span></div>
<div class="t" style="left:452.20px;top:192.5px;width:134.85px"><span>VkPPRenderPassSetup::V..</span></div>
<div class="t" style="left:452.20px;top:179.5px;width:134.85px"><span>VkPPRenderPassSetup::..</span></div>
<div class="t" style="left:452.20px;top:167.5px;width:134.85px"><span>GraphicsPipelineBuilder..</span></div>
<div class="t" style="left:452.45px;top:154.5px;width:134.60px"><span>anv_CreateGraphicsPipe..</span></div>
<div class="t" style="left:452.45px;top:142.5px;width:134.60px"><span>anv_graphics_pipeline_..</span></div>
<div class="t" style="left:452.45px;top:129.5px;width:134.60px"><span>anv_graphics_pipeline_..</span></div>
<div class="t" style="left:452.45px;top:117.5px;width:134.60px"><span>anv_device_upload_kernel</span></div>
<div class="t" style="left:452.45px;top:104.5px;width:134.60px"><span>-</span></div>
<div class="t" style="left:458.50px;top:92.5px;width:54.60px"><span>shader..</span></div>
<div class="t" style="left:513.60px;top:92.5px;width:39.95px"><span>sha..</span></div>
<div class="t" style="left:554.05px;top:92.5px;width:33.00px"><span>sh..</span></div>
<div class="t" style="left:460.85px;top:79.5px;width:52.25px"><span>sbid</span></div>
<div class="t" style="left:513.60px;top:79.5px;width:19.40px"><span>a..</span></div>
<div class="t" style="left:535.95px;top:79.5px;width:16.80px"><span>s..</span></div>
<div class="t" style="left:558.80px;top:79.5px;width:28.25px"><span>sbid</span></div>
<div class="t" style="left:587.55px;top:242.5px;width:37.85px"><span>HW..</span></div>
<div class="t" style="left:587.55px;top:230.5px;width:37.85px"><span>HW..</span></div>
<div class="t" style="left:587.55px;top:217.5px;width:37.85px"><span>HW..</span></div>
<div class="t" style="left:587.55px;top:205.5px;width:37.85px"><span>HWS..</span></div>
<div class="t" style="left:587.55px;top:192.5px;width:37.85px"><span>Vk..</span></div>
<div class="t" style="left:587.55px;top:179.5px;width:37.85px"><span>VkR..</span></div>
<div class="t" style="left:587.55px;top:167.5px;width:37.85px"><span>Vk..</span></div>
<div class="t" style="left:587.55px;top:154.5px;width:37.85px"><span>VkR..</span></div>
<div class="t" style="left:587.55px;top:142.5px;width:37.85px"><span>VkR..</span></div>
<div class="t" style="left:587.55px;top:129.5px;width:37.85px"><span>Gra..</span></div>
<div class="t" style="left:587.55px;top:117.5px;width:37.85px"><span>anv..</span></div>
<div class="t" style="left:587.55px;top:104.5px;width:37.85px"><span>anv..</span></div>
<div class="t" style="left:587.55px;top:92.5px;width:37.75px"><span>anv..</span></div>
<div class="t" style="left:587.55px;top:79.5px;width:37.75px"><span>anv_..</span></div>
<div class="t" style="left:587.90px;top:66.5px;width:37.10px"><span>-</span></div>
<div class="t" style="left:587.90px;top:54.5px;width:37.10px"><span>Def..</span></div>
<div class="t" style="left:606.25px;top:41.5px;width:16.15px"><span>s..</span></div>
<div class="t" style="left:625.90px;top:117.5px;width:14.25px"><span>-</span></div>
<div class="t" style="left:647.75px;top:242.5px;width:28.40px"><span>Postpr..</span></div>
<div class="t" style="left:647.75px;top:230.5px;width:28.40px"><span>P..</span></div>
<div class="t" style="left:647.75px;top:217.5px;width:28.40px"><span>V..</span></div>
<div class="t" style="left:647.75px;top:205.5px;width:28.40px"><span>Vk..</span></div>
<div class="t" style="left:647.75px;top:192.5px;width:28.40px"><span>Vk..</span></div>
<div class="t" style="left:647.75px;top:179.5px;width:28.40px"><span>V..</span></div>
<div class="t" style="left:647.75px;top:167.5px;width:28.40px"><span>G..</span></div>
<div class="t" style="left:647.75px;top:154.5px;width:28.40px"><span>a..</span></div>
<div class="t" style="left:647.75px;top:142.5px;width:28.40px"><span>a..</span></div>
<div class="t" style="left:647.75px;top:129.5px;width:28.40px"><span>a..</span></div>
<div class="t" style="left:647.75px;top:117.5px;width:28.40px"><span>a..</span></div>
<div class="t" style="left:647.30px;top:104.5px;width:28.45px"><span>-</span></div>
<div class="t" style="left:647.30px;top:92.5px;width:28.75px"><span>s..</span></div>
<div class="t" style="left:653.20px;top:79.5px;width:22.85px"><span>sbid</span></div>
<div class="t" style="left:700.75px;top:242.5px;width:38.75px"><span>VkP..</span></div>
<div class="t" style="left:700.75px;top:230.5px;width:38.55px"><span>vk..</span></div>
<div class="t" style="left:700.75px;top:217.5px;width:38.55px"><span>an..</span></div>
<div class="t" style="left:700.75px;top:205.5px;width:39.25px"><span>anv_..</span></div>
<div class="t" style="left:700.75px;top:192.5px;width:39.25px"><span>blor..</span></div>
<div class="t" style="left:700.75px;top:179.5px;width:39.25px"><span>do_b..</span></div>
<div class="t" style="left:700.75px;top:167.5px;width:40.60px"><span>upl..</span></div>
<div class="t" style="left:700.75px;top:154.5px;width:38.95px"><span>anv..</span></div>
<div class="t" style="left:700.75px;top:142.5px;width:38.65px"><span>-</span></div>
<div class="t" style="left:700.75px;top:129.5px;width:38.90px"><span>blor..</span></div>
<div class="t" style="left:710.40px;top:117.5px;width:29.45px"><span>sbid</span></div>
<div class="t" style="left:745.00px;top:217.5px;width:25.20px"><span>an..</span></div>
<div class="t" style="left:745.00px;top:205.5px;width:25.20px"><span>an..</span></div>
<div class="t" style="left:745.00px;top:192.5px;width:25.20px"><span>an..</span></div>
<div class="t" style="left:745.00px;top:179.5px;width:25.20px"><span>an..</span></div>
<div class="t" style="left:745.25px;top:167.5px;width:24.95px"><span>-</span></div>
</body></html>
